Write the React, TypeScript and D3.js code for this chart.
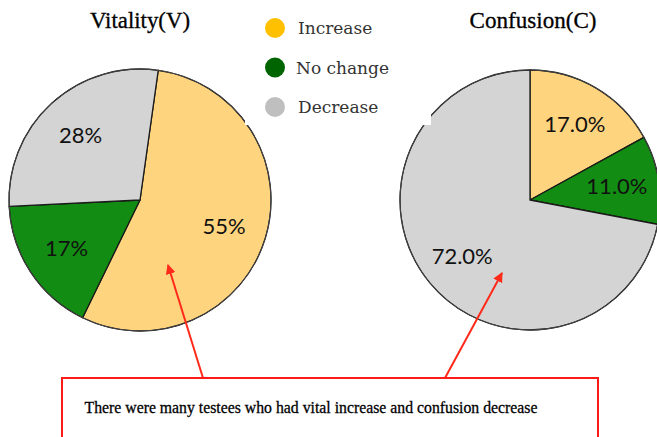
import * as d3 from "d3";

const categories = ["Increase", "No change", "Decrease"];
const vitalityValues = [55, 17, 28];
const confusionValues = [17, 11, 72];
const vitalityLabels = ["55%", "17%", "28%"];
const confusionLabels = ["17.0%", "11.0%", "72.0%"];
const titles = ["Vitality(V)", "Confusion(C)"];
const note = "There were many testees who had vital increase and confusion decrease";

const W = 657;
const H = 437;

const sliceColor = d3
  .scaleOrdinal<string, string>()
  .domain(categories)
  .range(["#FFD47E", "#128C12", "#D4D4D4"]);

const legendColor = d3
  .scaleOrdinal<string, string>()
  .domain(categories)
  .range(["#FFC000", "#006400", "#BFBFBF"]);

const legendY = d3.scalePoint<string>().domain(categories).range([28, 107]);

const pies = [
  { title: titles[0], values: vitalityValues, labels: vitalityLabels, cx: 140, cy: 200, r: 131, start: (8 * Math.PI) / 180, tx: 140, tw: 100 },
  { title: titles[1], values: confusionValues, labels: confusionLabels, cx: 530, cy: 200, r: 130, start: 0, tx: 533, tw: 127 },
];

// annotation arrows: [from box top, to inside pie]
const arrows = [
  { x1: 203, y1: 378, x2: 168, y2: 265 },
  { x1: 445, y1: 378, x2: 502, y2: 273 },
];

function Pie({ p }: { p: (typeof pies)[number] }) {
  const gen = d3
    .pie<number>()
    .sort(null)
    .startAngle(p.start)
    .endAngle(p.start + 2 * Math.PI);
  const arcs = gen(p.values);
  const arc = d3.arc<d3.PieArcDatum<number>>().innerRadius(0).outerRadius(p.r);
  const labelArc = d3.arc<d3.PieArcDatum<number>>().innerRadius(88).outerRadius(88);

  return (
    <g transform={`translate(${p.cx},${p.cy})`}>
      {arcs.map((a, i) => (
        <path
          key={i}
          d={arc(a) || ""}
          fill={sliceColor(categories[i])}
          stroke="#1a1a1a"
          strokeWidth={1.3}
          strokeLinejoin="round"
        />
      ))}
      <circle r={p.r} fill="none" stroke="#444" strokeWidth={1} />
      {arcs.map((a, i) => {
        const [x, y] = labelArc.centroid(a);
        return (
          <text
            key={"l" + i}
            x={x}
            y={y}
            dy="0.36em"
            textAnchor="middle"
            fontFamily="Lato, 'Open Sans', sans-serif"
            fontSize={22}
            fill="#111"
          >
            {p.labels[i]}
          </text>
        );
      })}
    </g>
  );
}

export default function App() {
  return (
    <svg
      width={W}
      height={H}
      style={{ position: "absolute", left: 0, top: 0, background: "#fff" }}
    >
      <defs>
        <marker
          id="head"
          viewBox="0 0 10 10"
          refX={9}
          refY={5}
          markerWidth={5}
          markerHeight={5}
          orient="auto"
          markerUnits="strokeWidth"
        >
          <path d="M0,0 L10,5 L0,10 z" fill="#FF2A1A" />
        </marker>
      </defs>
      <rect width={W} height={H} fill="#fff" />

      {pies.map((p, i) => (
        <Pie key={i} p={p} />
      ))}

      {/* white legend panel, overlaps pie edges slightly */}
      <rect x={245} y={0} width={186} height={125} fill="#fff" />

      {pies.map((p, i) => (
        <text
          key={"t" + i}
          x={p.tx}
          y={28}
          textAnchor="middle"
          fontFamily="'Liberation Serif', serif"
          fontSize={23}
          textLength={p.tw}
          lengthAdjust="spacingAndGlyphs"
          fill="#000"
          stroke="#000"
          strokeWidth={0.3}
        >
          {p.title}
        </text>
      ))}

      {categories.map((c) => (
        <g key={c} transform={`translate(0,${legendY(c)})`}>
          <circle cx={275} cy={0} r={10} fill={legendColor(c)} />
          <text
            x={c === "No change" ? 296 : 298}
            y={0}
            dy="0.36em"
            fontFamily="'DejaVu Serif', serif"
            fontSize={17}
            fill="#333"
          >
            {c}
          </text>
        </g>
      ))}

      {arrows.map((a, i) => (
        <line
          key={"a" + i}
          x1={a.x1}
          y1={a.y1}
          x2={a.x2}
          y2={a.y2}
          stroke="#FF2A1A"
          strokeWidth={2}
          markerEnd="url(#head)"
        />
      ))}

      <rect x={62} y={378} width={536} height={90} fill="#fff" stroke="#FF1A1A" strokeWidth={2} />
      <text
        x={311}
        y={413}
        textAnchor="middle"
        fontFamily="'Liberation Serif', serif"
        fontSize={17}
        textLength={453}
        lengthAdjust="spacingAndGlyphs"
        fill="#000"
        stroke="#000"
        strokeWidth={0.3}
      >
        {note}
      </text>
    </svg>
  );
}
